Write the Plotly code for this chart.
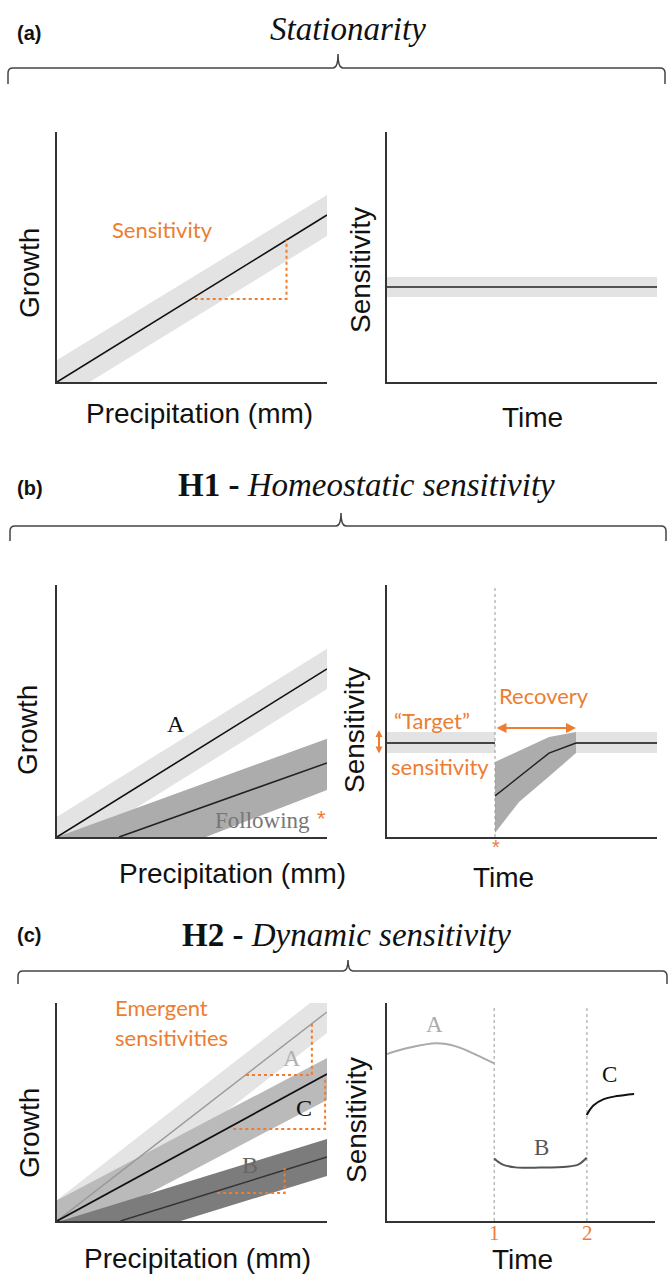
import plotly.graph_objects as go

W, H = 668, 1276
ORANGE = "#ED7D31"
SANS = "Liberation Sans"
SERIF = "Liberation Serif"
CAL = "Lato"

# ---------------- data ----------------
# (a) Stationarity
a_precip = [0, 10]
a_growth = [0, 6.68]
a_growth_upper = [0.88, 7.48]
a_growth_lower = [-0.8, 5.84]
a_slope_x = [5.1, 8.5, 8.5]
a_slope_y = [3.32, 3.32, 5.68]
a_time = [0, 10]
a_sens = [3.8, 3.8]
a_sens_upper = [4.2, 4.2]
a_sens_lower = [3.4, 3.4]

# (b) H1 - Homeostatic sensitivity
b_precip = [0, 10]
b_growth_A = [0, 6.67]
b_A_upper = [0.8, 7.47]
b_A_lower = [-0.8, 5.87]
b_follow_x = [2.3, 10]
b_follow_y = [0, 2.94]
b_follow_upper = [0.0, 3.9]
b_follow_lower = [-2.3, 1.87]
b_target_x1 = [0, 4.0]
b_target_x2 = [7.0, 10]
b_target = 3.73
b_target_upper = 4.17
b_target_lower = 3.33
b_rec_x = [4.0, 6.0, 7.0]
b_rec_y = [1.63, 3.33, 3.73]
b_rec_upper = [2.98, 3.97, 4.17]
b_rec_lower_x = [4.0, 4.5, 4.9, 6.0, 7.0]
b_rec_lower = [0.16, 0.85, 1.4, 2.4, 3.33]
b_shock_time = 4.0

# (c) H2 - Dynamic sensitivity
c_precip = [0, 10]
c_growth_A = [0, 9.59]
c_A_upper = [0.96, 10.6]
c_A_lower = [-1.0, 8.62]
c_growth_C = [0, 6.74]
c_C_upper = [0.95, 7.48]
c_C_lower = [-0.95, 5.55]
c_B_x = [2.35, 10]
c_growth_B = [0, 2.94]
c_B_upper = [-0.05, 3.76]
c_B_lower = [-1.74, 2.06]
c_A_tri_x = [7.0, 9.44, 9.44]
c_A_tri_y = [6.70, 6.70, 9.08]
c_C_tri_x = [6.53, 9.93, 9.93]
c_C_tri_y = [4.22, 4.22, 6.6]
c_B_tri_x = [5.93, 8.43, 8.43]
c_B_tri_y = [1.28, 1.28, 2.43]

c_curveA_t = [0, 0.73, 1.85, 2.6, 3.35, 4.0]
c_curveA_s = [7.66, 7.92, 8.15, 8.0, 7.61, 7.23]
c_curveB_t = [4.0, 4.3, 4.8, 5.71, 6.7, 7.15, 7.45]
c_curveB_s = [2.87, 2.6, 2.46, 2.45, 2.49, 2.6, 2.9]
c_curveC_t = [7.45, 7.7, 8.07, 8.57, 9.22]
c_curveC_s = [4.86, 5.3, 5.58, 5.73, 5.83]
c_events = [4.0, 7.46]
c_event_labels = ["1", "2"]
c_event_top = 9.8

# ---------------- layout helpers ----------------
def px(x):
    return x / W

def py(y):
    return 1 - y / H

fig = go.Figure()

def band(xs, up, lo, color, ax, lo_x=None):
    lo_x = list(xs) if lo_x is None else list(lo_x)
    fig.add_trace(go.Scatter(
        x=list(xs) + lo_x[::-1], y=list(up) + list(lo)[::-1],
        fill="toself", fillcolor=color, mode="lines", line=dict(width=0),
        xaxis="x" + ax, yaxis="y" + ax, hoverinfo="skip", showlegend=False))

def line(xs, ys, color, ax, width=1.6, dash=None, shape="linear"):
    fig.add_trace(go.Scatter(
        x=xs, y=ys, mode="lines",
        line=dict(color=color, width=width, dash=dash, shape=shape),
        xaxis="x" + ax, yaxis="y" + ax, hoverinfo="skip", showlegend=False))

annots = []

def txt(text, x, y, ax=None, size=22, color="#111", family=SANS, angle=0,
        xanchor="center", yanchor="middle"):
    d = dict(text=text, showarrow=False, font=dict(size=size, color=color, family=family),
             textangle=angle, xanchor=xanchor, yanchor=yanchor, borderpad=0)
    if ax is None:
        d.update(x=px(x), y=py(y), xref="paper", yref="paper")
    else:
        d.update(x=x, y=y, xref="x" + ax, yref="y" + ax)
    annots.append(d)

def darrow(x0, y0, x1, y1, ax):
    annots.append(dict(x=x1, y=y1, ax=x0, ay=y0, xref="x" + ax, yref="y" + ax,
                       axref="x" + ax, ayref="y" + ax, text="", showarrow=True,
                       arrowhead=2, startarrowhead=2, arrowside="end+start",
                       arrowsize=1, startarrowsize=1, arrowwidth=2, arrowcolor=ORANGE,
                       standoff=0, startstandoff=0))

# ---------------- panel (a) ----------------
band(a_precip, a_growth_upper, a_growth_lower, "#e3e3e3", "")
line(a_precip, a_growth, "#111", "")
line(a_slope_x, a_slope_y, ORANGE, "", width=2, dash="dot")
txt("Sensitivity", 3.9, 6.1, "", size=22, color=ORANGE, family=CAL)

band(a_time, a_sens_upper, a_sens_lower, "#e3e3e3", "2")
line(a_time, a_sens, "#222", "2")

# ---------------- panel (b) ----------------
band(b_precip, b_A_upper, b_A_lower, "#e3e3e3", "3")
band(b_precip, b_follow_upper, b_follow_lower, "#acacac", "3")
line(b_precip, b_growth_A, "#111", "3")
line(b_follow_x, b_follow_y, "#222", "3")
txt("A", 4.4, 4.5, "3", size=24, family=SERIF)
txt("Following", 7.6, 0.67, "3", size=23, color="#777", family=SERIF)
txt("*", 9.8, 0.72, "3", size=22, color=ORANGE, family=SANS)

band(b_target_x1, [b_target_upper] * 2, [b_target_lower] * 2, "#e3e3e3", "4")
band(b_target_x2, [b_target_upper] * 2, [b_target_lower] * 2, "#e3e3e3", "4")
band(b_rec_x, b_rec_upper, b_rec_lower, "#acacac", "4", lo_x=b_rec_lower_x)
line([b_shock_time, b_shock_time], [0, 10], "#999", "4", width=1, dash="dot")
line(b_target_x1, [b_target] * 2, "#111", "4")
line(b_target_x2, [b_target] * 2, "#111", "4")
line(b_rec_x, b_rec_y, "#222", "4", width=1.4)
darrow(b_shock_time, 4.33, b_rec_x[-1], 4.33, "4")
# small vertical double arrow left of the axis (paper/pixel placement)
annots.append(dict(x=px(379), y=py(730), xref="paper", yref="paper", ax=0, ay=25,
                   axref="pixel", ayref="pixel", text="", showarrow=True,
                   arrowhead=2, startarrowhead=2, arrowside="end+start",
                   arrowsize=0.7, startarrowsize=0.7, arrowwidth=2, arrowcolor=ORANGE,
                   standoff=0, startstandoff=0))
txt("Recovery", 5.83, 5.63, "4", size=22, color=ORANGE, family=CAL)
txt("\u201cTarget\u201d", 1.66, 4.64, "4", size=22, color=ORANGE, family=CAL)
txt("sensitivity", 1.96, 2.78, "4", size=22, color=ORANGE, family=CAL)
txt("*", 496, 847, size=20, color=ORANGE, family=SANS)

# ---------------- panel (c) ----------------
band(c_precip, c_A_upper, c_A_lower, "#e4e4e4", "5")
band(c_precip, c_C_upper, c_C_lower, "#bababa", "5")
band(c_precip, c_B_upper, c_B_lower, "#7c7c7c", "5")
line(c_precip, c_growth_A, "#999", "5", width=1.4)
line(c_precip, c_growth_C, "#111", "5", width=1.8)
line(c_B_x, c_growth_B, "#333", "5", width=1.4)
line(c_A_tri_x, c_A_tri_y, ORANGE, "5", width=2, dash="dot")
line(c_C_tri_x, c_C_tri_y, ORANGE, "5", width=2, dash="dot")
line(c_B_tri_x, c_B_tri_y, ORANGE, "5", width=2, dash="dot")
txt("A", 8.7, 7.5, "5", size=24, color="#b0b0b0", family=SERIF)
txt("C", 9.14, 5.18, "5", size=24, color="#111", family=SERIF)
txt("B", 7.13, 2.57, "5", size=24, color="#666", family=SERIF)
txt("Emergent", 2.1, 9.8, "5", size=22, color=ORANGE, family=CAL, xanchor="left")
txt("sensitivities", 2.1, 8.44, "5", size=22, color=ORANGE, family=CAL, xanchor="left")

event_px = [494, 587]
for t, lab, ex in zip(c_events, c_event_labels, event_px):
    line([t, t], [0, c_event_top], "#999", "6", width=1, dash="dot")
    txt(lab, ex, 1233, size=21, color=ORANGE, family=SERIF)
line(c_curveA_t, c_curveA_s, "#aaaaaa", "6", width=2, shape="spline")
line(c_curveB_t, c_curveB_s, "#555555", "6", width=2, shape="spline")
line(c_curveC_t, c_curveC_s, "#111111", "6", width=2, shape="spline")
txt("A", 1.79, 9.0, "6", size=23, color="#aaaaaa", family=SERIF)
txt("B", 5.78, 3.35, "6", size=23, color="#555555", family=SERIF)
txt("C", 8.32, 6.7, "6", size=23, color="#111", family=SERIF)

# ---------------- axis titles & headers ----------------
TS = 28
for (gx, gy, prx, pry, sx, sy, tx, ty) in [
    (29, 273, 200, 413, 360, 270, 532, 417),
    (27, 730, 232, 873, 354, 730, 503, 877),
    (29, 1133, 197, 1258, 356, 1120, 522, 1259),
]:
    txt("Growth", gx, gy, size=TS, angle=-90)
    txt("Precipitation (mm)", prx, pry, size=TS)
    txt("Sensitivity", sx, sy, size=TS, angle=-90)
    txt("Time", tx, ty, size=TS)

txt("<b>(a)</b>", 16, 33, size=20, xanchor="left")
txt("<b>(b)</b>", 16, 488, size=20, xanchor="left")
txt("<b>(c)</b>", 16, 935, size=20, xanchor="left")
txt("<i>Stationarity</i>", 348, 29, size=33, family=SERIF)
txt("<b>H1 -</b> <i>Homeostatic sensitivity</i>", 366, 485, size=33, family=SERIF)
txt("<b>H2 -</b> <i>Dynamic sensitivity</i>", 346, 935, size=33, family=SERIF)

# braces
shapes = []
def brace(x0, x1, xm, yh, ytip, yend, r=5, r2=5):
    p = (f"M {px(x0)},{py(yend)} L {px(x0)},{py(yh + r)} Q {px(x0)},{py(yh)} {px(x0 + r)},{py(yh)} "
         f"L {px(xm - r2)},{py(yh)} Q {px(xm)},{py(yh)} {px(xm)},{py(ytip)} "
         f"Q {px(xm)},{py(yh)} {px(xm + r2)},{py(yh)} L {px(x1 - r)},{py(yh)} "
         f"Q {px(x1)},{py(yh)} {px(x1)},{py(yh + r)} L {px(x1)},{py(yend)}")
    shapes.append(dict(type="path", path=p, xref="paper", yref="paper",
                       line=dict(color="#444", width=1.5)))

brace(8, 665, 338, 68, 54, 84)
brace(10, 666, 341, 526, 513, 541)
brace(18, 667, 348, 971, 960, 984)

# ---------------- axes ----------------
def axis(domain, anchor):
    return dict(domain=domain, range=[0, 10], showgrid=False, zeroline=False,
                showticklabels=False, ticks="", showline=True, linecolor="#333",
                linewidth=1.5, fixedrange=True, anchor=anchor)

xl = [px(57), px(327)]
xr = [px(387), px(657)]
ya = [py(382), py(132)]
yb = [py(837), py(585)]
yc = [py(1221), py(1003)]

fig.update_layout(
    width=W, height=H, margin=dict(l=0, r=0, t=0, b=0),
    paper_bgcolor="white", plot_bgcolor="white", showlegend=False,
    xaxis=axis(xl, "y"), yaxis=axis(ya, "x"),
    xaxis2=axis(xr, "y2"), yaxis2=axis(ya, "x2"),
    xaxis3=axis(xl, "y3"), yaxis3=axis(yb, "x3"),
    xaxis4=axis(xr, "y4"), yaxis4=axis(yb, "x4"),
    xaxis5=axis(xl, "y5"), yaxis5=axis(yc, "x5"),
    xaxis6=axis([px(387), px(655)], "y6"), yaxis6=axis(yc, "x6"),
    annotations=annots, shapes=shapes,
)

fig.write_html("out.html")
